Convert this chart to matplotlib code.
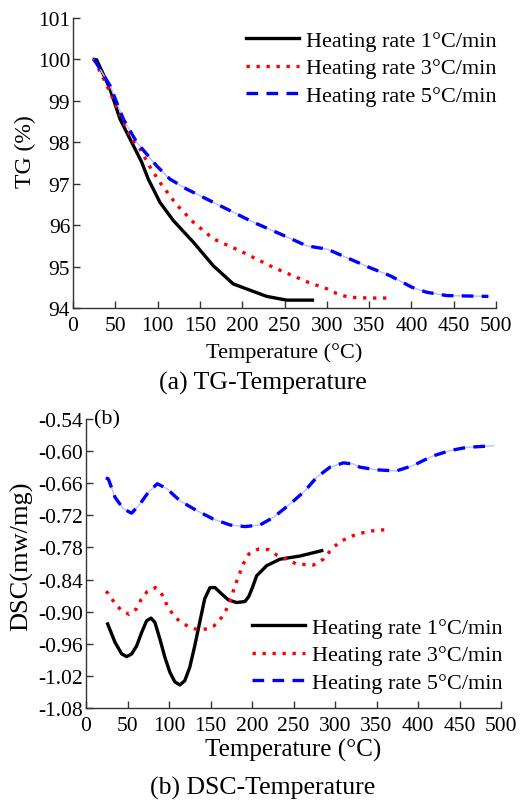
import matplotlib
matplotlib.use("Agg")
import matplotlib.pyplot as plt

plt.rcParams['font.family'] = ['Liberation Serif', 'DejaVu Serif']

labels = ["Heating rate 1°C/min", "Heating rate 3°C/min", "Heating rate 5°C/min"]

# TG data
tg1_x = [25, 28, 43.7, 55.6, 67.4, 81.2, 89, 102.8, 118.6, 142.2, 165.8, 189.5, 205.3, 229, 252.6, 283]
tg1_y = [100, 99.99, 99.29, 98.56, 98.08, 97.52, 97.11, 96.55, 96.11, 95.59, 95.02, 94.58, 94.46, 94.28, 94.19, 94.19]
tg3_x = [25, 43.7, 53.6, 69.3, 79.2, 90.2, 102.8, 121.7, 142.2, 165.8, 197.4, 236.8, 278.2, 300.6, 307.7, 325.4, 350.2, 370.8]
tg3_y = [100, 99.21, 98.76, 98.08, 97.84, 97.43, 97.03, 96.51, 96.07, 95.67, 95.38, 94.98, 94.62, 94.46, 94.38, 94.26, 94.24, 94.24]
tg5_x = [25, 43.7, 59.5, 75.3, 98.9, 114.7, 134.4, 158, 185.6, 213.1, 244.7, 276.2, 300.6, 350.2, 374.7, 400.7, 418, 441.7, 490.9]
tg5_y = [100, 99.37, 98.56, 98.0, 97.43, 97.11, 96.87, 96.63, 96.35, 96.07, 95.79, 95.5, 95.42, 94.98, 94.78, 94.5, 94.38, 94.3, 94.28]

# DSC data
dsc1_x = [26.1, 34.9, 43, 49, 55, 61, 67, 73, 78.3, 83, 89, 95, 101, 107, 113, 119, 125, 131, 137, 143, 149.4, 155.4,
          163.5, 171.5, 181.5, 191.5, 196, 200, 205.6, 217.7, 233.7, 257.8, 284]
dsc1_y = [-0.923, -0.957, -0.979, -0.984, -0.979, -0.964, -0.939, -0.917, -0.912, -0.920, -0.951, -0.985, -1.013, -1.031,
          -1.037, -1.029, -1.004, -0.964, -0.920, -0.876, -0.855, -0.855, -0.867, -0.878, -0.883, -0.881, -0.872, -0.857,
          -0.833, -0.814, -0.802, -0.796, -0.786]
dsc3_x = [24, 26.9, 34.1, 42.2, 51.8, 60.6, 66.2, 73.9, 83.5, 91.6, 96.4, 102.4, 108.4, 115.7, 124.9, 135.3, 146.6, 153.8,
          161, 167.5, 172.7, 176.7, 181.1, 185.5, 190.4, 196.4, 207.6, 219.6, 230.5, 241.8, 253.8, 273.9, 286, 296, 306,
          326, 345, 366]
dsc3_y = [-0.862, -0.866, -0.883, -0.897, -0.905, -0.895, -0.878, -0.862, -0.855, -0.868, -0.884, -0.900, -0.912, -0.921,
          -0.929, -0.934, -0.932, -0.927, -0.916, -0.901, -0.884, -0.865, -0.845, -0.827, -0.808, -0.792, -0.783, -0.784,
          -0.795, -0.802, -0.811, -0.813, -0.802, -0.783, -0.769, -0.755, -0.749, -0.746]
dsc5_x = [24, 26.9, 34.9, 45, 55, 65, 75, 85.9, 97.2, 113.3, 133.3, 153.4, 173.5, 191.6, 209.6, 225.7, 245.8, 263.9,
          277.9, 294, 310, 322, 330, 350, 374, 394, 418, 438.6, 458.6, 490.7]
dsc5_y = [-0.650, -0.652, -0.686, -0.708, -0.716, -0.699, -0.677, -0.661, -0.670, -0.693, -0.711, -0.727, -0.738, -0.741,
          -0.738, -0.724, -0.699, -0.674, -0.649, -0.630, -0.622, -0.624, -0.630, -0.635, -0.637, -0.627, -0.609, -0.599,
          -0.593, -0.590]

xticks = [0, 50, 100, 150, 200, 250, 300, 350, 400, 450, 500]
tg_yticks = [94, 95, 96, 97, 98, 99, 100, 101]
dsc_yticks = [-1.08, -1.02, -0.96, -0.90, -0.84, -0.78, -0.72, -0.66, -0.60, -0.54]

W, H = 531, 804
fig = plt.figure(figsize=(W/100, H/100), dpi=100)

TICK = 15.5
LEG = 16


def setup(ax):
    for s in ['top', 'right']:
        ax.spines[s].set_visible(False)
    for s in ['left', 'bottom']:
        ax.spines[s].set_linewidth(1.0)
        ax.spines[s].set_color('#333333')
    ax.tick_params(direction='in', length=5, width=1, labelsize=TICK, colors='#333333',
                   labelcolor='black')
    ax.tick_params(axis='y', pad=2)
    ax.tick_params(axis='x', pad=6)
    ax.set_xlim(0, 500)
    ax.set_xticks(xticks)


def draw(ax, xs, ys):
    h1, = ax.plot(xs[0], ys[0], color='black', lw=2.4, ls='-')
    h2, = ax.plot(xs[1], ys[1], color='red', lw=2.4, ls=(0, (1, 2.0)))
    ax.plot(xs[2], ys[2], color='#b8c0ff', lw=1.0, ls='-')
    h3, = ax.plot(xs[2], ys[2], color='blue', lw=2.4, ls=(0, (3.5, 2.5)))
    return [h1, h2, h3]


# Top
ax1 = fig.add_axes([73/W, 1 - 309/H, 423/W, 290/H])
setup(ax1)
hs = draw(ax1, [tg1_x, tg3_x, tg5_x], [tg1_y, tg3_y, tg5_y])
ax1.set_ylim(94, 101)
ax1.set_yticks(tg_yticks)
ax1.set_xlabel("Temperature (°C)", fontsize=16, labelpad=5)
fig.text(25/W, 1 - 152/H, "TG (%)", fontsize=17, rotation=90, ha='center', va='center')
ax1.legend(hs, labels, frameon=False, fontsize=LEG, loc='upper left', bbox_to_anchor=(166/423, (309 - 25)/290),
           handlelength=2.4, handletextpad=0.3, labelspacing=0.3, borderaxespad=0.0, borderpad=0.3)

# Bottom
ax2 = fig.add_axes([86/W, 1 - 709/H, 415/W, 289/H])
setup(ax2)
hs2 = draw(ax2, [dsc1_x, dsc3_x, dsc5_x], [dsc1_y, dsc3_y, dsc5_y])
ax2.set_ylim(-1.08, -0.54)
ax2.set_yticks(dsc_yticks)
ax2.set_yticklabels([f"{v:.2f}" for v in dsc_yticks])
ax2.set_xlabel("Temperature (°C)", fontsize=18, labelpad=2)
fig.text(22/W, 1 - 556/H, "DSC(mw/mg)", fontsize=19, rotation=90, ha='center', va='center')
ax2.text(0.02, 1.0, "(b)", transform=ax2.transAxes, fontsize=LEG, va='center', ha='left')
ax2.legend(hs2, labels, frameon=False, fontsize=LEG, loc='upper left', bbox_to_anchor=(159/415, (709 - 612)/289),
           handlelength=2.4, handletextpad=0.3, labelspacing=0.3, borderaxespad=0.0, borderpad=0.3)

fig.text(263/W, 1 - 383/H, "(a) TG-Temperature", fontsize=18.5, ha='center', va='center')
fig.text(263/W, 1 - 788/H, "(b) DSC-Temperature", fontsize=18.5, ha='center', va='center')

fig.savefig("out.png", dpi=100)
